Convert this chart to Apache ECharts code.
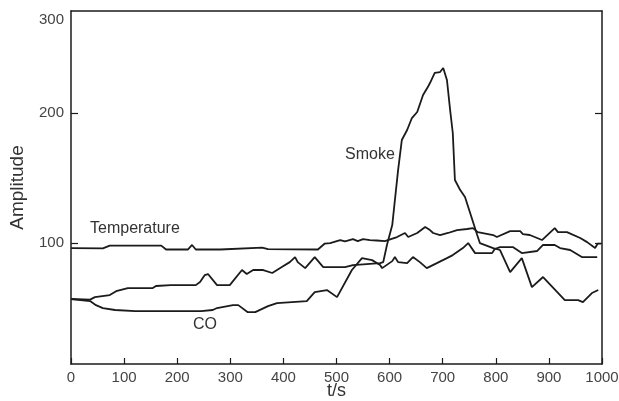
<!DOCTYPE html>
<html>
<head>
<meta charset="utf-8">
<script src="https://cdn.jsdelivr.net/npm/echarts@6/dist/echarts.min.js"></script>
<style>
  html, body { margin: 0; padding: 0; background: #fff; }
  #main { width: 619px; height: 401px; }
</style>
</head>
<body>
<div id="main"></div>
<script>
"use strict";

// tick labels
var yTicks = [100, 200, 300];
var yTickMarks = [100, 200];

// [t (s), amplitude]
var temperature = [
  [0, 96.9], [60, 96.7], [73, 98.4], [170, 98.4], [179, 96.0], [220, 96.0],
  [228, 98.8], [235, 96.0], [281, 96.0], [284, 97.2], [360, 97.2], [371, 96.3],
  [465, 96.0], [478, 99.7], [488, 100], [507, 101.9], [516, 101.0], [531, 102.5],
  [540, 101.2], [550, 102.5], [563, 101.9], [576, 101.6], [591, 101.2],
  [614, 103.8], [629, 106.4], [635, 103.8], [652, 106.4], [667, 110.3],
  [676, 108.3], [682, 106.4], [695, 105.1], [710, 106.4], [727, 108.3],
  [746, 109.0], [757, 109.6], [766, 107.0], [795, 105.1], [802, 103.8],
  [827, 107.6], [846, 107.6], [851, 105.7], [864, 105.1], [887, 101.9],
  [911, 109.6], [917, 107.0], [934, 107.0], [959, 103.2], [972, 100.6],
  [987, 96.9], [992, 99.7], [998, 99.7]
];

var smoke = [
  [0, 67.8], [36, 67.5], [45, 68.8], [73, 69.9], [85, 72.0], [107, 73.7],
  [154, 73.7], [160, 74.8], [188, 75.3], [235, 75.3], [243, 77.0], [252, 80.9],
  [258, 81.5], [275, 75.3], [299, 75.3], [322, 83.8], [331, 81.5], [343, 83.8],
  [362, 83.8], [379, 82.1], [397, 85.5], [412, 88.4], [422, 91.4], [427, 88.4],
  [441, 84.9], [459, 91.4], [475, 85.5], [516, 85.5], [531, 86.7], [582, 87.8],
  [588, 88.4], [595, 98.8], [605, 111.6], [610, 128.8], [616, 151.2],
  [623, 175.8], [633, 184.5], [642, 195.3], [652, 200.9], [663, 217.2],
  [672, 225.1], [676, 229.2], [685, 239.6], [695, 240.6], [701, 244.9],
  [708, 232.3], [714, 202.7], [719, 181.9], [723, 143.5], [733, 136.0],
  [742, 130.9], [765, 105.1], [770, 100], [795, 96.9], [808, 95.7],
  [827, 82.6], [849, 90.8], [868, 74.2], [889, 79.8], [930, 67.2],
  [955, 67.2], [964, 66.2], [981, 71.0], [993, 72.6]
];

var co = [
  [0, 67.8], [36, 66.7], [47, 64.6], [60, 63.1], [83, 62.1], [121, 61.5],
  [245, 61.5], [267, 62.1], [275, 63.1], [305, 64.6], [315, 64.6], [333, 61.0],
  [347, 61.0], [371, 64.1], [388, 65.7], [444, 66.7], [459, 71.5], [482, 72.6],
  [501, 68.8], [529, 83.8], [548, 90.8], [567, 89.6], [582, 86.7], [586, 84.9],
  [605, 89.0], [610, 91.4], [616, 88.4], [633, 87.8], [644, 91.4], [657, 88.4],
  [670, 84.9], [689, 87.8], [708, 90.8], [719, 92.6], [738, 96.9], [748, 100],
  [761, 93.8], [793, 93.8], [798, 96.3], [808, 97.5], [832, 97.5], [849, 93.8],
  [878, 95.1], [889, 98.8], [911, 98.8], [921, 96.9], [940, 95.7], [962, 91.4],
  [991, 91.4]
];

// the figure's amplitude scale gets tighter toward the top
var OFFSET = 105;
function warp(v) { return Math.log(v + OFFSET); }
function unwarp(w) { return Math.exp(w) - OFFSET; }

var Y_MIN = 36.7, Y_MAX = 311.4;
var FONT = "Liberation Sans, Arial, sans-serif";
var INK = "#1b1b1b";

function warped(list) {
  return list.map(function (p) { return [p[0], warp(p[1])]; });
}

var chart = echarts.init(document.getElementById("main"));

var boxLine = { show: true, onZero: false, lineStyle: { color: INK, width: 1.5 } };

var option = {
  animation: false,
  backgroundColor: "#fff",
  grid: { left: 71, right: 17, top: 11, bottom: 37, containLabel: false, outerBoundsMode: "none" },
  xAxis: [
    {
      type: "value",
      min: 0,
      max: 1000,
      interval: 100,
      name: "t/s",
      nameLocation: "middle",
      nameGap: 18,
      nameMoveOverlap: false,
      nameTextStyle: { fontFamily: FONT, fontSize: 18, color: "#333", verticalAlign: "top" },
      axisLine: boxLine,
      axisTick: { show: true, inside: true, length: 6, lineStyle: { color: INK, width: 1.2 } },
      axisLabel: {
        margin: 6, fontFamily: FONT, fontSize: 15, color: "#444",
        formatter: function (v) { return String(v); }
      },
      splitLine: { show: false }
    },
    {
      type: "value",
      position: "top",
      min: 0,
      max: 1000,
      axisLine: boxLine,
      axisTick: { show: false },
      axisLabel: { show: false },
      splitLine: { show: false }
    }
  ],
  yAxis: [
    {
      type: "value",
      min: warp(Y_MIN),
      max: warp(Y_MAX),
      name: "Amplitude",
      nameLocation: "middle",
      nameGap: 44,
      nameMoveOverlap: false,
      nameTextStyle: { fontFamily: FONT, fontSize: 19, color: "#333" },
      axisLine: boxLine,
      axisTick: {
        show: true, inside: true, length: 7,
        customValues: yTickMarks.map(warp),
        lineStyle: { color: INK, width: 1.2 }
      },
      axisLabel: {
        margin: 7,
        fontFamily: FONT, fontSize: 15, color: "#444",
        customValues: yTicks.map(warp),
        formatter: function (w) { return String(Math.round(unwarp(w))); }
      },
      splitLine: { show: false }
    },
    {
      type: "value",
      position: "right",
      min: warp(Y_MIN),
      max: warp(Y_MAX),
      axisLine: boxLine,
      axisTick: {
        show: true, inside: true, length: 7,
        customValues: yTickMarks.map(warp),
        lineStyle: { color: INK, width: 1.2 }
      },
      axisLabel: { show: false },
      splitLine: { show: false }
    }
  ],
  series: [
    { name: "Temperature", data: warped(temperature) },
    { name: "Smoke", data: warped(smoke) },
    { name: "CO", data: warped(co) }
  ].map(function (s) {
    return {
      name: s.name,
      type: "line",
      data: s.data,
      showSymbol: false,
      lineStyle: { color: INK, width: 1.8 },
      z: 3
    };
  }),
  graphic: [
    { type: "text", left: 90, top: 221, style: { text: "Temperature", fontFamily: FONT, fontSize: 16, fill: "#333" } },
    { type: "text", left: 345, top: 147, style: { text: "Smoke", fontFamily: FONT, fontSize: 16, fill: "#333" } },
    { type: "text", left: 193, top: 317, style: { text: "CO", fontFamily: FONT, fontSize: 16, fill: "#333" } }
  ]
};

chart.setOption(option);
</script>
</body>
</html>
